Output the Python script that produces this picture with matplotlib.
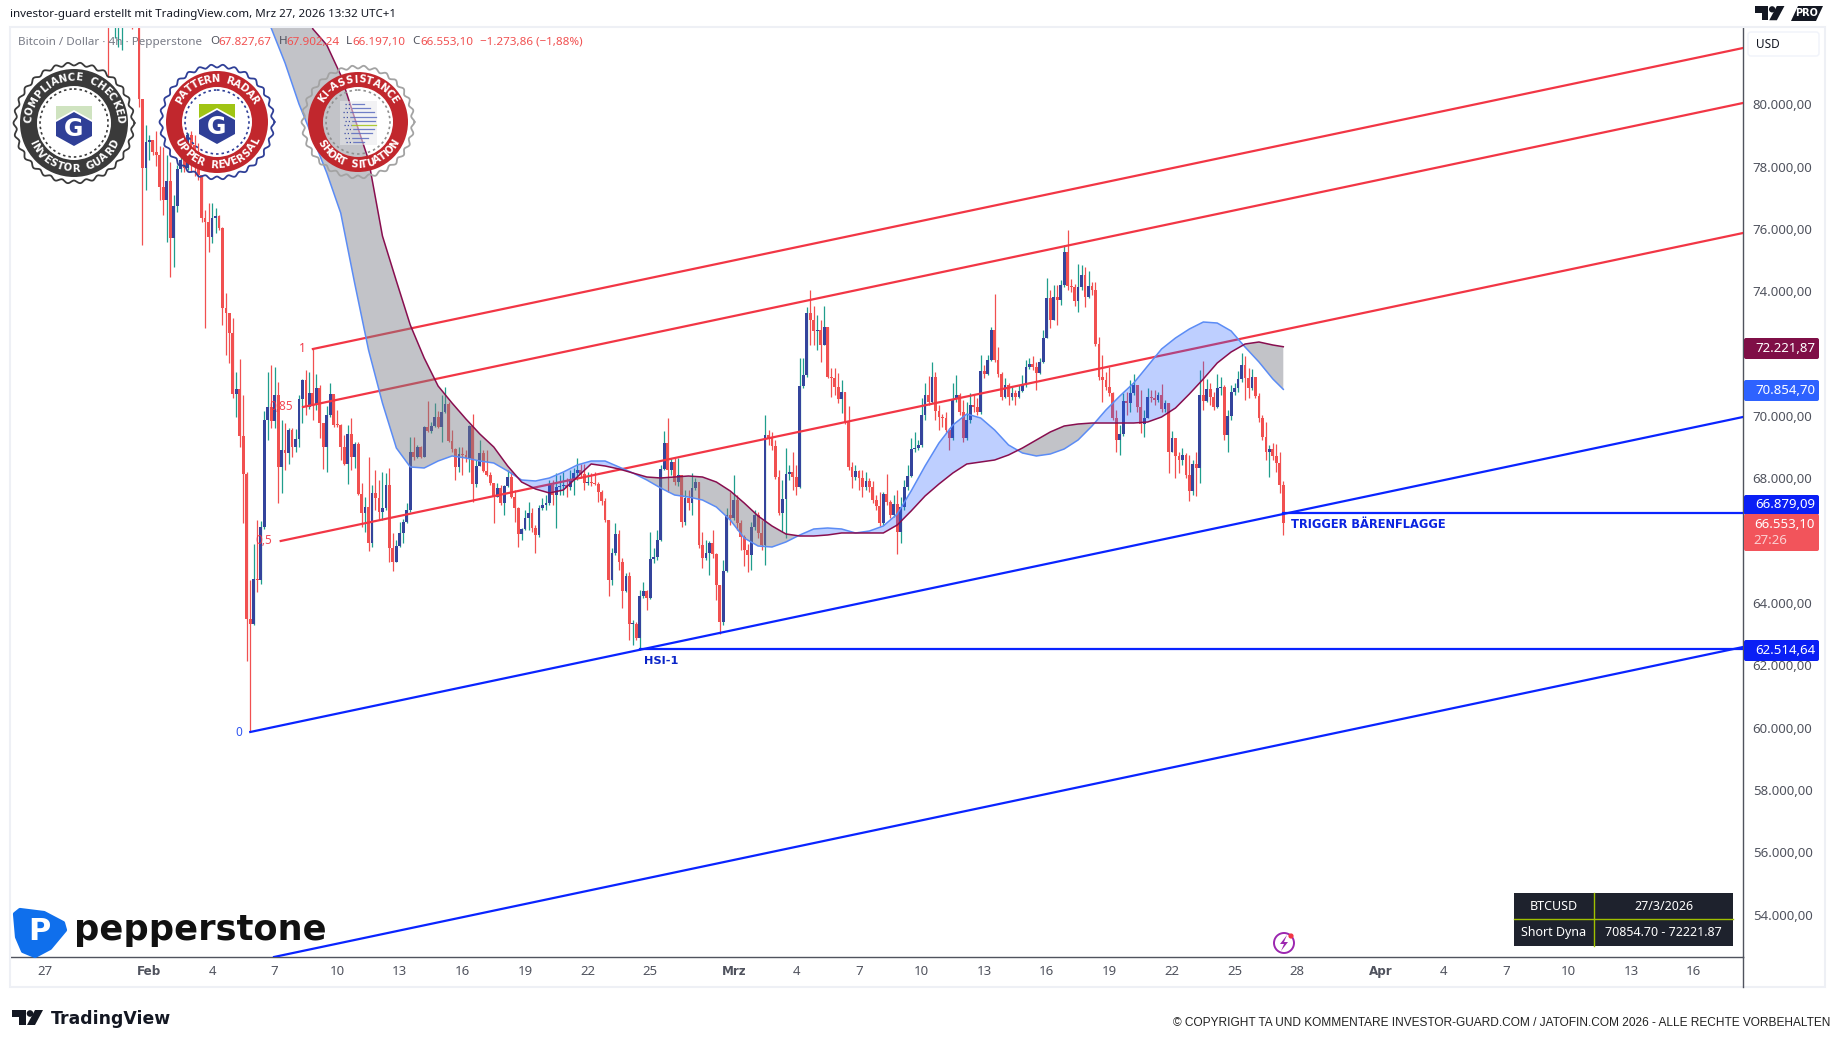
import numpy as np
import pandas as pd
import matplotlib
matplotlib.use("Agg")
import matplotlib.pyplot as plt
import matplotlib.dates as mdates
from matplotlib.patches import Circle, Polygon, Rectangle, Wedge, FancyBboxPatch
from matplotlib.ticker import FuncFormatter

plt.rcParams['font.family'] = ['Noto Sans', 'DejaVu Sans']

# BTCUSD 4h (open of a bar = close of the bar before)
first_open = 83900
closes = [
    83600, 83000, 83300, 83600, 83900, 84200, 84000, 83500, 83300, 80170,
    77960, 78790, 78850, 78470, 78370, 77350, 76930, 77540, 75710, 76740,
    77920, 78210, 77960, 79010, 78690, 78470, 77730, 76350, 76220, 75740,
    76350, 76420, 76030, 73460, 73300, 72660, 70710, 70870, 69360, 68140,
    63490, 63330, 64770, 64740, 66440, 69870, 70290, 69840, 70670, 68360,
    68910, 68810, 69550, 69000, 69260, 70550, 71160, 70290, 70740, 70350,
    70900, 69780, 69000, 70030, 70710, 69710, 69700, 69000, 68460, 69420,
    68680, 69100, 67500, 66890, 67080, 65930, 67530, 67370, 66920, 67050,
    67790, 65770, 65320, 65830, 66250, 66600, 66980, 68850, 68680, 69000,
    68680, 69650, 69520, 69680, 69970, 69650, 70130, 70380, 69200, 68940,
    68360, 68780, 68750, 68650, 69680, 67820, 68400, 68810, 68240, 68110,
    67850, 67400, 67690, 67210, 67750, 68040, 67400, 67050, 66220, 66380,
    66730, 66890, 66410, 66180, 67050, 67150, 67210, 67790, 67470, 67720,
    67750, 67790, 67720, 67980, 68170, 68270, 68140, 67850, 67880, 67850,
    67820, 67560, 67270, 66660, 64740, 65610, 66220, 65320, 64390, 64870,
    63330, 63330, 62880, 64230, 64390, 64160, 65410, 65480, 66020, 68300,
    69130, 68270, 68520, 67880, 68110, 66600, 67370, 67210, 67690, 67880,
    65860, 65450, 65610, 65930, 65570, 64580, 63390, 65030, 66820, 66730,
    67310, 66570, 66120, 65700, 65540, 66440, 66820, 66250, 65860, 69390,
    69290, 69040, 68040, 66890, 67340, 68140, 68200, 68040, 67720, 70960,
    71320, 73300, 73080, 72730, 72760, 72280, 72860, 71250, 71220, 70930,
    70550, 70770, 69810, 68360, 68040, 68240, 68010, 67720, 67920, 67720,
    67310, 67110, 66570, 67500, 67240, 66820, 67180, 66280, 67080, 67720,
    68080, 68940, 68970, 69070, 70030, 70670, 70450, 71250, 70160, 69970,
    69950, 69550, 69290, 70550, 70670, 70130, 69290, 69870, 70350, 70290,
    70130, 71440, 71350, 71800, 72760, 71800, 71350, 70610, 70990, 70610,
    70740, 70610, 70800, 70990, 71570, 71670, 71570, 71380, 71730, 72500,
    73790, 73080, 73820, 73720, 74200, 75260, 74170, 74140, 73690, 74140,
    74520, 73820, 74170, 74040, 72310, 71250, 71160, 70930, 70740, 69940,
    69230, 69420, 70480, 70420, 70740, 70990, 70290, 69740, 69940, 70610,
    70580, 70510, 70670, 70220, 70420, 68850, 69290, 68720, 68590, 68750,
    68110, 67590, 68460, 68330, 70670, 70480, 70870, 70610, 70290, 70900,
    70930, 69390, 70000, 70770, 70900, 71190, 71640, 71220, 70900, 71250,
    70640, 69940, 69330, 68850, 68940, 68720, 68490, 67790, 66553.10,
]
highs = [
    84200, 83900, 83900, 84000, 84300, 84600, 84700, 84300, 83900, 83500,
    80170, 79340, 79010, 78850, 79140, 78660, 78630, 78370, 78150, 77090,
    78050, 78530, 78210, 79080, 79140, 79010, 78760, 77730, 76610, 76830,
    76830, 76670, 76450, 76060, 73950, 73300, 73140, 71410, 71830, 70670,
    68200, 64740, 65890, 66660, 66630, 70160, 71410, 71620, 71570, 71090,
    69870, 69780, 69620, 69620, 69580, 70670, 71190, 71480, 71410, 72150,
    71350, 70990, 69780, 70320, 71060, 70670, 70190, 69740, 69390, 69710,
    69940, 69170, 69170, 67850, 67400, 68680, 67790, 68270, 67950, 68200,
    68170, 68330, 66250, 66020, 66600, 66700, 67210, 69330, 69330, 69070,
    69040, 69680, 70480, 69810, 70420, 70160, 70670, 70930, 70450, 69550,
    68970, 69000, 69000, 68910, 69710, 70060, 68590, 69230, 68910, 68910,
    68200, 67850, 67850, 67790, 67790, 68270, 68200, 67630, 67080, 66410,
    66980, 67240, 67050, 66500, 67150, 67370, 67470, 67950, 67950, 68170,
    68110, 68200, 68010, 68270, 68330, 68650, 68460, 68460, 68200, 68170,
    68200, 67880, 67630, 67370, 66660, 65770, 66570, 66340, 65450, 64960,
    65000, 63460, 63390, 64420, 64680, 64420, 66280, 65770, 66340, 68430,
    69520, 69940, 68650, 68650, 68650, 68110, 67630, 67630, 68170, 68010,
    67880, 66280, 66020, 65990, 66340, 65610, 64580, 65380, 67050, 67560,
    68110, 67470, 66660, 66180, 65900, 66600, 66980, 66920, 66660, 70030,
    69550, 69490, 69230, 68270, 67950, 68970, 68430, 68850, 68430, 71860,
    71860, 73500, 74040, 73530, 73240, 73080, 73530, 72860, 71540, 71540,
    71380, 71160, 70770, 70320, 68520, 68430, 68270, 68270, 68200, 68010,
    67920, 67470, 67560, 67560, 68140, 67310, 67470, 67630, 67400, 67950,
    68430, 69290, 69490, 69230, 70580, 71060, 71280, 71730, 71410, 70350,
    70060, 70130, 69620, 71060, 71320, 70740, 70510, 70450, 70740, 70670,
    70580, 71960, 71640, 71960, 72860, 73910, 72210, 71410, 71220, 71060,
    70930, 70830, 70990, 71320, 71800, 71860, 71930, 71730, 71860, 72760,
    74430, 74040, 74200, 74200, 74360, 75490, 75970, 74400, 74230, 74880,
    74850, 74780, 74650, 74300, 74300, 72530, 71960, 71410, 71570, 70770,
    70190, 69710, 70740, 70770, 71160, 71350, 70990, 70830, 70190, 70900,
    70830, 70830, 70770, 71030, 70510, 70420, 69520, 69290, 68850, 68970,
    68810, 68750, 68590, 68850, 71480, 71760, 71190, 71060, 70770, 71350,
    71250, 70990, 70190, 70990, 71060, 71440, 72020, 71930, 71540, 71510,
    71250, 70740, 70030, 69810, 69070, 69130, 69100, 68840, 67902.24,
]
lows = [
    80880, 82700, 82130, 81840, 81740, 83500, 83400, 82410, 82900, 79910,
    75490, 77250, 78210, 78370, 78020, 76930, 76450, 75580, 74460, 74780,
    76540, 77830, 77830, 77890, 77830, 77700, 77570, 76220, 72820, 75260,
    75550, 75870, 75970, 72920, 71960, 71700, 70580, 69970, 69000, 66570,
    62140, 59860, 63300, 64350, 64610, 66380, 69230, 69620, 69620, 67210,
    67530, 68270, 68460, 68680, 68850, 69000, 69780, 70030, 70220, 69870,
    70190, 69290, 68300, 68200, 69970, 69650, 69650, 68590, 68430, 67820,
    68270, 68330, 67470, 66440, 66280, 65670, 65800, 66980, 66660, 66660,
    66980, 65320, 65030, 65320, 65800, 65930, 66570, 66920, 68590, 68650,
    68650, 68680, 69490, 69460, 69650, 69620, 69170, 70100, 69170, 68850,
    67950, 68200, 68110, 68520, 68200, 67240, 67720, 68400, 68200, 68080,
    67790, 66570, 67400, 67150, 66820, 67720, 67370, 66600, 65800, 66020,
    66340, 66340, 66280, 65610, 66120, 66980, 66980, 67150, 67150, 66410,
    67470, 67470, 67400, 67630, 67470, 67950, 68010, 67630, 67790, 67750,
    67790, 67240, 67150, 66600, 64230, 64580, 65540, 65060, 63840, 64350,
    62810, 62660, 62810, 62490, 64160, 63780, 64130, 65280, 65380, 65990,
    68270, 67560, 68110, 67790, 67750, 66440, 66500, 66980, 66820, 67630,
    65770, 65120, 65380, 64900, 65450, 64100, 63000, 63300, 65000, 66500,
    66660, 66340, 65700, 65190, 64990, 65060, 66340, 66090, 65700, 65220,
    69070, 68910, 67980, 66820, 66280, 66090, 67950, 67630, 67470, 67690,
    70900, 71250, 72280, 72280, 72120, 71730, 72280, 71220, 70610, 70670,
    70420, 70100, 69740, 68270, 67690, 67950, 67630, 67400, 67630, 67560,
    67210, 66980, 66470, 66500, 67150, 66730, 66760, 65570, 65930, 66980,
    67630, 68040, 68840, 68910, 69000, 69870, 70350, 70420, 69870, 69550,
    69650, 69490, 68910, 69230, 70450, 70030, 69170, 69230, 69780, 70130,
    70030, 70060, 71220, 71320, 71760, 71730, 71250, 70510, 70580, 70350,
    70510, 70350, 70580, 70770, 70930, 71510, 71480, 70830, 71350, 71700,
    72500, 72820, 73080, 72920, 73560, 74140, 74040, 73980, 73530, 73340,
    74040, 73500, 73790, 73880, 72250, 71160, 70450, 70830, 70640, 69870,
    68850, 68750, 69360, 70030, 70130, 70670, 70130, 69460, 69330, 69940,
    70450, 70350, 70450, 70130, 70130, 68170, 68850, 68010, 68170, 68430,
    68010, 67270, 67470, 67430, 67850, 70190, 70450, 70350, 70190, 70260,
    70670, 69230, 68850, 69870, 70670, 70770, 71090, 70510, 70580, 70830,
    70580, 69810, 69230, 68590, 68040, 68590, 68200, 67530, 66197.10,
]

# fast / slow line of the ribbon, taken at every 4th bar from bar 47 on
ribbon_bars = list(range(47, 336, 4)) + [338]
ribbon_fast = [
    82447, 81324, 80009, 78918, 77795, 76512, 74267, 72117, 70415, 68973,
    68364, 68332, 68556, 68717, 68652, 68556, 68492, 68235, 67947, 67915,
    68011, 68203, 68428, 68556, 68556, 68364, 68171, 67947, 67690, 67465,
    67401, 67305, 67080, 66663, 66086, 65829, 65797, 65958, 66183, 66375,
    66407, 66375, 66247, 66311, 66471, 66856, 67594, 68396, 69134, 69711,
    70064, 69936, 69551, 69070, 68813, 68717, 68781, 68941, 69230, 69679,
    70192, 70641, 71058, 71604, 72149, 72502, 72791, 73015, 72983, 72727,
    72212, 71732, 71187, 70854.70,
]
ribbon_slow = [
    86232, 85270, 83826, 82415, 81901, 80939, 79560, 78212, 75774, 74331,
    72919, 71860, 70962, 70417, 69904, 69422, 69005, 68396, 67882, 67658,
    67530, 67626, 68043, 68460, 68396, 68300, 68171, 68043, 68011, 68043,
    68075, 68043, 67882, 67594, 67209, 66792, 66471, 66215, 66150, 66150,
    66183, 66247, 66247, 66247, 66247, 66503, 66952, 67433, 67818, 68171,
    68460, 68524, 68588, 68749, 68973, 69230, 69487, 69679, 69743, 69775,
    69775, 69775, 69775, 69807, 69968, 70256, 70706, 71187, 71700, 72053,
    72309, 72374, 72277, 72221.87,
]

# channel lines: start date, start price, end price at the right edge
last_bar = '2026-03-27 08:00'
right_edge = '2026-04-18 08:40'
left_edge = '2026-01-25 07:40'
red_lines = [('2026-02-08 20:00', 72149, 81805),
             ('2026-02-08 08:40', 70289, 80041),
             ('2026-02-07 07:00', 65990, 75870)]
blue_lines = [('2026-02-05 20:00', 59863, 69968),
              ('2026-02-06 23:20', 52645, 62589)]
levels = [('2026-03-27 08:00', 66879.09), ('2026-02-24 12:00', 62514.64)]

# 66.000 and 72.000 sit behind the price tags in the picture
y_ticks = [54000, 56000, 58000, 60000, 62000, 64000, 68000, 70000, 74000, 76000, 78000, 80000]
x_tick_dates = ['2026-01-27', '2026-02-01', '2026-02-04', '2026-02-07', '2026-02-10', '2026-02-13',
                '2026-02-16', '2026-02-19', '2026-02-22', '2026-02-25', '2026-03-01', '2026-03-04',
                '2026-03-07', '2026-03-10', '2026-03-13', '2026-03-16', '2026-03-19', '2026-03-22',
                '2026-03-25', '2026-03-28', '2026-04-01', '2026-04-04', '2026-04-07', '2026-04-10',
                '2026-04-13', '2026-04-16']
x_tick_labels = ['27', 'Feb', '4', '7', '10', '13', '16', '19', '22', '25', 'Mrz', '4', '7', '10', '13',
                 '16', '19', '22', '25', '28', 'Apr', '4', '7', '10', '13', '16']

UP_BODY = '#34449c'
UP_WICK = '#1f9e8c'
DOWN = '#f15050'
RED_LINE = '#f23645'
BLUE_LINE = '#0a24ff'
GREY_TXT = '#50535e'
BOLD = ['DejaVu Sans']

W, H = 1835, 1044
fig = plt.figure(figsize=(W / 100, H / 100), dpi=100, facecolor='white')
ax = fig.add_axes([10 / W, 1 - 957 / H, (1743 - 10) / W, (957 - 27) / H])
ax.set_facecolor('white')

times = pd.date_range(end=last_bar, periods=len(closes), freq='4h')
x = mdates.date2num(times)
c = np.array(closes, dtype=float)
o = np.r_[first_open, c[:-1]]
h = np.array(highs, dtype=float)
l = np.array(lows, dtype=float)
up = c >= o

# candles
ax.vlines(x[up], l[up], h[up], color=UP_WICK, lw=0.9, zorder=2)
ax.vlines(x[~up], l[~up], h[~up], color=DOWN, lw=0.9, zorder=2)
body = np.maximum(np.abs(c - o), 30)
bottom = np.minimum(c, o)
ax.bar(x[up], body[up], bottom=bottom[up], width=0.135, color=UP_BODY, lw=0, zorder=3)
ax.bar(x[~up], body[~up], bottom=bottom[~up], width=0.135, color=DOWN, lw=0, zorder=3)

# channel + levels
xr = mdates.date2num(pd.Timestamp(right_edge))
for start, p0, p1 in red_lines:
    ax.plot([mdates.date2num(pd.Timestamp(start)), xr], [p0, p1], color=RED_LINE, lw=1.6, zorder=4)
for start, p0, p1 in blue_lines:
    ax.plot([mdates.date2num(pd.Timestamp(start)), xr], [p0, p1], color=BLUE_LINE, lw=1.6, zorder=4)
for start, p in levels:
    ax.plot([mdates.date2num(pd.Timestamp(start)), xr], [p, p], color=BLUE_LINE, lw=1.6, zorder=4)

# ribbon sits on top of the candles
rx = x[ribbon_bars]
fast = np.array(ribbon_fast)
slow = np.array(ribbon_slow)
ax.fill_between(rx, fast, slow, where=fast <= slow, interpolate=True, color='#787b86', alpha=0.45, lw=0, zorder=5)
ax.fill_between(rx, fast, slow, where=fast >= slow, interpolate=True, color='#2962ff', alpha=0.3, lw=0, zorder=5)
ax.plot(rx, fast, color='#5b8cf5', lw=1.1, zorder=6)
ax.plot(rx, slow, color='#880e4f', lw=1.1, zorder=6)

ax.set_xlim(mdates.date2num(pd.Timestamp(left_edge)), xr)
ax.set_ylim(83345 - 32.08 * 957, 83345 - 32.08 * 27)

ax.yaxis.tick_right()
ax.set_yticks(y_ticks)
ax.yaxis.set_major_formatter(FuncFormatter(
    lambda v, _: f"{v:,.2f}".replace(',', 'X').replace('.', ',').replace('X', '.')))
ax.set_xticks(mdates.date2num(pd.to_datetime(x_tick_dates)))
ax.set_xticklabels(x_tick_labels)
ax.tick_params(axis='y', length=0, pad=7, labelsize=9.5, labelcolor=GREY_TXT)
ax.tick_params(axis='x', length=0, pad=6, labelsize=9.5, labelcolor=GREY_TXT)
for lab in ax.get_xticklabels():
    if lab.get_text() in ('Feb', 'Mrz', 'Apr'):
        lab.set_fontweight('bold')
        lab.set_fontfamily(BOLD)
        lab.set_fontsize(8.6)
for side in ('top', 'left'):
    ax.spines[side].set_visible(False)
for side in ('right', 'bottom'):
    ax.spines[side].set_color(GREY_TXT)
    ax.spines[side].set_linewidth(1.0)

# overlay in screen pixels for labels, badges, logos
ov = fig.add_axes([0, 0, 1, 1], zorder=10)
ov.set_xlim(0, W)
ov.set_ylim(H, 0)
ov.axis('off')
ov.patch.set_alpha(0)

ov.add_patch(Rectangle((10, 27), 1815, 960, fill=False, ec='#eef0f5', lw=1.5))
ov.plot([1743, 1743], [957, 987], color=GREY_TXT, lw=1.0)

ov.text(10, 14, 'investor-guard erstellt mit TradingView.com, Mrz 27, 2026 13:32 UTC+1',
        fontsize=8.3, color='#131722', va='center')
ov.text(18, 42, 'Bitcoin / Dollar · 4h · Pepperstone', fontsize=8.4, color='#787b86', va='center')
for px, txt, col in [(210, 'O', GREY_TXT), (218, '67.827,67', DOWN), (279, 'H', GREY_TXT),
                     (286, '67.902,24', DOWN), (346, 'L', GREY_TXT), (352, '66.197,10', DOWN),
                     (412, 'C', GREY_TXT), (420, '66.553,10', DOWN), (480, '−1.273,86 (−1,88%)', DOWN)]:
    ov.text(px, 42, txt, fontsize=8.4, color=col, va='center')

# drawing labels
ov.text(302, 349, '1', color=RED_LINE, fontsize=8.5, ha='center', va='center')
ov.text(281, 407, '0,85', color=RED_LINE, fontsize=8.5, ha='center', va='center', alpha=0.9)
ov.text(264, 541, '0,5', color=RED_LINE, fontsize=8.5, ha='center', va='center', alpha=0.9)
ov.text(239, 732, '0', color='#2f55f0', fontsize=8.5, ha='center', va='center')
ov.text(661, 661, 'HSI-1', color='#0a24c8', fontsize=8.2, fontweight='bold', family=BOLD, ha='center', va='center')
ov.text(1291, 525, 'TRIGGER BÄRENFLAGGE', color='#0a24e0', fontsize=8.3, fontweight='bold', family=BOLD, va='center')


# price tags
def tag(y0, y1, color):
    ov.add_patch(FancyBboxPatch((1744, y0), 75, y1 - y0, boxstyle='round,pad=0,rounding_size=2',
                                fc=color, ec='none', zorder=3))


def tag_text(y, txt, color='white'):
    ov.text(1815, y, txt, color=color, fontsize=9.5, ha='right', va='center', zorder=4)


tag(338, 359, '#7f0f47')
tag_text(348, '72.221,87')
tag(380, 401, '#2e62ff')
tag_text(390, '70.854,70')
tag(495, 515, '#0a1ff5')
tag_text(505, '66.879,09')
tag(514, 551, '#f2545b')
tag_text(524, '66.553,10')
ov.text(1753, 540, '27:26', color='#fbd0d2', fontsize=9.5, va='center', zorder=4)
tag(640, 661, '#0a1ff5')
tag_text(650, '62.514,64')

ov.add_patch(FancyBboxPatch((1748, 32), 71, 24, boxstyle='round,pad=0,rounding_size=3',
                            fc='white', ec='#f0f3fa', lw=1))
ov.text(1756, 44, 'USD', color='#131722', fontsize=8.5, va='center')

# info table
TX0, TX1, TX2 = 1514, 1594, 1733
TY0, TY1, TY2 = 893, 919, 946
ov.add_patch(Rectangle((TX0, TY0), TX2 - TX0, TY2 - TY0, fc='#1e222d', ec='none'))
ov.plot([TX1, TX1], [TY0, TY2], color='#a0c000', lw=1)
ov.plot([TX0, TX2], [TY1, TY1], color='#a0c000', lw=1)
for px, py, txt in [((TX0 + TX1) / 2, (TY0 + TY1) / 2, 'BTCUSD'), ((TX1 + TX2) / 2, (TY0 + TY1) / 2, '27/3/2026'),
                    ((TX0 + TX1) / 2, (TY1 + TY2) / 2, 'Short Dyna'),
                    ((TX1 + TX2) / 2, (TY1 + TY2) / 2, '70854.70 - 72221.87')]:
    ov.text(px, py, txt, color='white', fontsize=9, ha='center', va='center')

# alert icon
ov.add_patch(Circle((1284, 943), 10, fill=False, ec='#9c27b0', lw=1.4))
ov.add_patch(Polygon([(1287, 935), (1280, 944), (1284, 944), (1281, 951), (1288, 942), (1284, 942)],
                     fc='#9c27b0', ec='none'))
ov.add_patch(Circle((1291, 936), 2.6, fc='#f23645', ec='none'))


# badges
def char_weight(ch):
    if ch in 'I-':
        return 0.55
    if ch in ' JLTE':
        return 0.8
    if ch in 'MW':
        return 1.2
    return 1.0


def arc_text(cx, cy, r, txt, mid_deg, step_deg, top, color='white', size=7.2):
    w = [char_weight(ch) for ch in txt]
    total = sum(w)
    pos = 0.0
    for ch, cw in zip(txt, w):
        off = (pos + cw / 2 - total / 2) * step_deg
        pos += cw
        a = mid_deg - off if top else mid_deg + off
        rad = np.deg2rad(a)
        rot = a - 90 if top else a + 90
        ov.text(cx + r * np.cos(rad), cy - r * np.sin(rad), ch, color=color, fontsize=size, fontweight='bold',
                family=BOLD, rotation=rot, rotation_mode='anchor', ha='center', va='center')


def scallop(cx, cy, r, color, lw=1.3, teeth=30):
    t = np.linspace(0, 2 * np.pi, 700)
    rr = r + 1.5 * np.cos(teeth * t)
    ov.plot(cx + rr * np.cos(t), cy + rr * np.sin(t), color=color, lw=lw)


def shield(cx, cy, band):
    ov.add_patch(Polygon([(cx - 18, cy - 18), (cx + 18, cy - 18), (cx + 18, cy - 4), (cx, cy - 14), (cx - 18, cy - 4)],
                         fc=band, ec='none'))
    ov.add_patch(Polygon([(cx - 18, cy - 2), (cx, cy - 12), (cx + 18, cy - 2), (cx + 18, cy + 12), (cx, cy + 22),
                          (cx - 18, cy + 12)], fc='#2f3f97', ec='none'))
    ov.text(cx, cy + 5, 'G', color='white', fontsize=17, fontweight='bold', family=BOLD, ha='center', va='center')


def badge(cx, cy, rout, rin, rscal, ring, edge, dots, top_txt, bot_txt, top_step, bot_step):
    scallop(cx, cy, rscal, edge)
    ov.add_patch(Wedge((cx, cy), rout, 0, 360, width=rout - rin, fc=ring, ec='none'))
    ov.add_patch(Circle((cx, cy), rin - 3, fill=False, ec=dots, lw=1.2, ls=(0, (1.5, 1.8))))
    arc_text(cx, cy, (rout + rin) / 2, top_txt, 90, top_step, True)
    arc_text(cx, cy, (rout + rin) / 2, bot_txt, 270, bot_step, False)


badge(74, 123, 54, 37, 59, '#3a3a3a', '#3a3a3a', '#3a3a3a', 'COMPLIANCE CHECKED', 'INVESTOR GUARD', 10.8, 10.4)
shield(74, 124, '#cfe3c0')
badge(217, 122, 51, 35, 56, '#c1272d', '#2f3f97', '#2f3f97', 'PATTERN RADAR', 'UPPER REVERSAL', 10.6, 10.4)
shield(217, 122, '#a0c414')
badge(358, 122, 50, 35, 55, '#c1272d', '#a3a3a3', '#8f8f8f', 'KI-ASSISTANCE', 'SHORT SITUATION', 11, 9.6)
ov.add_patch(Rectangle((340, 101), 37, 44, fc='#e8e8ec', ec='none', alpha=0.55))
for row, (x0, x1) in enumerate([(345, 364), (345, 370), (343, 374), (343, 376), (345, 375), (344, 376),
                                (346, 374), (344, 372), (345, 368), (346, 364)]):
    py = 104 + row * 4.2
    ov.plot([x0 + 8, x1], [py, py], color='#a3c414' if row == 5 else '#5a6bc0', lw=0.9, alpha=0.85)
    ov.plot([x0, x0 + 7], [py, py], color='#3f4fa5', lw=0.9, ls=(0, (1, 1.6)))


# logos
def tv_logo(x0, y0, s, color):
    ov.add_patch(Polygon([(x0, y0), (x0 + 14 * s, y0), (x0 + 14 * s, y0 + 15 * s), (x0 + 7 * s, y0 + 15 * s),
                          (x0 + 7 * s, y0 + 7 * s), (x0, y0 + 7 * s)], fc=color, ec='none'))
    ov.add_patch(Circle((x0 + 18 * s, y0 + 3.5 * s), 3.3 * s, fc=color, ec='none'))
    ov.add_patch(Polygon([(x0 + 23 * s, y0), (x0 + 31 * s, y0), (x0 + 23 * s, y0 + 15 * s), (x0 + 15 * s, y0 + 15 * s)],
                         fc=color, ec='none'))


tv_logo(12, 1010, 1.0, '#131722')
ov.text(51, 1019, 'TradingView', color='#131722', fontsize=12.4, fontweight='bold',
        family=BOLD, va='center')
tv_logo(1755, 6, 0.95, '#131722')
ov.add_patch(Polygon([(1791, 21), (1798, 6), (1823, 6), (1816, 21)], fc='#131722', ec='none'))
ov.text(1807, 13.5, 'PRO', color='white', fontsize=7, fontweight='bold', family=BOLD, ha='center', va='center')

ov.add_patch(Polygon([(15, 914), (20, 910), (44, 913), (63, 923), (65, 930), (50, 948), (35, 956), (23, 951), (17, 937)],
                     fc='#0f6fec', ec='#0f6fec', lw=3, joinstyle='round'))
ov.text(39, 932, 'P', color='white', fontsize=22, fontweight='bold', family=BOLD, ha='center', va='center')
ov.text(74, 930, 'pepperstone', color='#111111', fontsize=25.4, fontweight='bold',
        family=BOLD, va='center')

ov.text(1830, 1023, '© COPYRIGHT TA UND KOMMENTARE INVESTOR-GUARD.COM / JATOFIN.COM 2026 - ALLE RECHTE VORBEHALTEN',
        color='#222222', fontsize=8.6, family=['Liberation Sans', 'DejaVu Sans'], ha='right', va='center')

fig.savefig('out.png', dpi=100, facecolor='white')
